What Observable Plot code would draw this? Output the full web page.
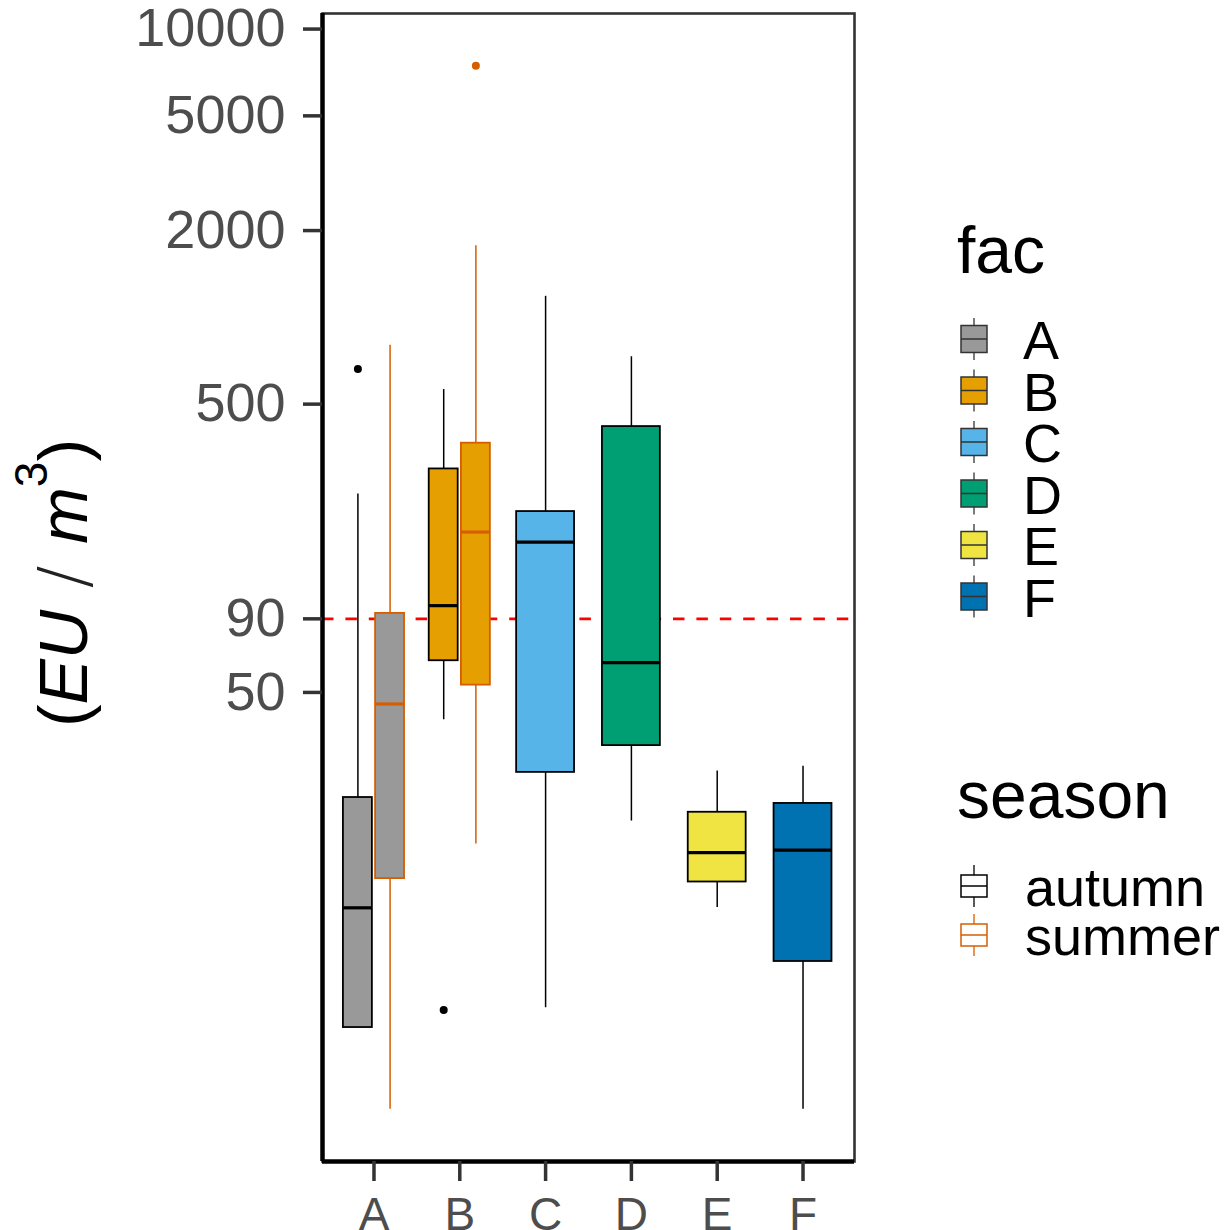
<!DOCTYPE html>
<html>
<head>
<meta charset="utf-8">
<script src="https://cdn.jsdelivr.net/npm/d3@7"></script>
<script src="https://cdn.jsdelivr.net/npm/@observablehq/plot@0.6"></script>
<style>
  body { margin: 0; background: #ffffff; }
  #chart { position: relative; width: 1225px; height: 1230px; overflow: hidden; }
</style>
</head>
<body>
<div id="chart"></div>
<script>
// ---------------- data ----------------
const facLevels = ["A", "B", "C", "D", "E", "F"];
const facColors = ["#999999", "#E69F00", "#56B4E9", "#009E73", "#F0E442", "#0072B2"];
const seasonLevels = ["autumn", "summer"];
const seasonColors = ["#000000", "#D55E00"];

// one entry per box
const boxFac    = ["A", "A", "B", "B", "C", "D", "E", "F"];
const boxSeason = ["autumn", "summer", "autumn", "summer", "autumn", "autumn", "autumn", "autumn"];
const boxLow    = [3.44, 1.79, 40.2, 14.9, 4.03, 17.9, 8.98, 1.79];
const boxQ1     = [3.44, 11.3, 64.4, 53.0, 26.4, 32.7, 11.0, 5.83];
const boxMedian = [8.95, 45.6, 100, 180, 166, 63.4, 13.9, 14.2];
const boxQ3     = [21.6, 94, 298, 366, 212, 418, 19.2, 20.6];
const boxHigh   = [244, 801, 562, 1772, 1183, 730, 26.7, 27.7];

// outliers
const outFac    = ["A", "B", "B"];
const outSeason = ["autumn", "autumn", "summer"];
const outValue  = [662, 3.96, 7460];

// reference line & axis ticks
const refLine = [90];
const yTicks = [50, 90, 500, 2000, 5000, 10000];
const yDomain = [1.18, 11324];

// ---------------- layout helpers ----------------
const boxWidth = 0.75, dodgePad = 0.1;
const facColor = f => facColors[facLevels.indexOf(f)];
const seasonColor = s => seasonColors[seasonLevels.indexOf(s)];

const rows = boxFac.map((f, i) => ({
  fac: f, season: boxSeason[i], low: boxLow[i], q1: boxQ1[i],
  med: boxMedian[i], q3: boxQ3[i], high: boxHigh[i]
}));
const counts = d3.rollup(rows, v => v.length, d => d.fac);
const seen = new Map();
rows.forEach(r => {
  const n = counts.get(r.fac);
  const j = seen.get(r.fac) || 0;
  seen.set(r.fac, j + 1);
  const slot = boxWidth / n;
  r.cx = facLevels.indexOf(r.fac) + 1 + (j - (n - 1) / 2) * slot;
  r.hw = slot * (1 - dodgePad) / 2;
  r.x1 = r.cx - r.hw;
  r.x2 = r.cx + r.hw;
});
const outRows = outFac.map((f, i) => {
  const b = rows.find(r => r.fac === f && r.season === outSeason[i]);
  return { fac: f, season: outSeason[i], value: outValue[i], cx: b.cx };
});

const xTicks = facLevels.map((f, i) => i + 1);
const xDomain = [0.4, facLevels.length + 0.6];
const font = "'Liberation Sans', Arial, Helvetica, sans-serif";

const svg = Plot.plot({
  width: 1225,
  height: 1230,
  marginLeft: 322,
  marginRight: 371,
  marginTop: 13,
  marginBottom: 69,
  style: { fontFamily: font, background: "#ffffff", overflow: "hidden" },
  x: { type: "linear", domain: xDomain, axis: null },
  y: { type: "log", domain: yDomain, axis: null },
  color: { type: "identity" },
  marks: [
    Plot.ruleY(refLine, { stroke: "#FF0000", strokeWidth: 2.8, strokeDasharray: "11.5,11.9" }),
    Plot.ruleX(rows, { x: "cx", y1: "low", y2: "q1", stroke: d => seasonColor(d.season), strokeWidth: 1.5 }),
    Plot.ruleX(rows, { x: "cx", y1: "q3", y2: "high", stroke: d => seasonColor(d.season), strokeWidth: 1.5 }),
    Plot.rect(rows, { x1: "x1", x2: "x2", y1: "q1", y2: "q3", fill: d => facColor(d.fac), stroke: d => seasonColor(d.season), strokeWidth: 1.8 }),
    Plot.ruleY(rows, { y: "med", x1: "x1", x2: "x2", stroke: d => seasonColor(d.season), strokeWidth: 3.2 }),
    Plot.dot(outRows, { x: "cx", y: "value", r: 4, fill: d => seasonColor(d.season), stroke: null }),
    Plot.frame({ stroke: "#333333", strokeWidth: 2.6 }),
    Plot.ruleX([xDomain[0]], { stroke: "#000000", strokeWidth: 4.5 }),
    Plot.ruleY([yDomain[0]], { stroke: "#000000", strokeWidth: 4.5 }),
    Plot.axisY(yTicks, { tickSize: 19, tickPadding: 18, tickFormat: d => String(d), fontSize: 54,
      fill: "#4D4D4D", stroke: "#333333", strokeWidth: 3.5, label: null }),
    Plot.axisX(xTicks, { tickSize: 20, tickPadding: 16, tickFormat: i => facLevels[i - 1], fontSize: 46,
      fill: "#4D4D4D", stroke: "#333333", strokeWidth: 3.5, label: null })
  ]
});

const s = d3.select(svg);

// y-axis title: (EU / m^3)
const yl = s.append("text")
  .attr("transform", "translate(87,583) rotate(-90)")
  .attr("text-anchor", "middle")
  .attr("font-family", font)
  .attr("font-size", 68)
  .attr("fill", "#000000");
yl.append("tspan").text("(");
yl.append("tspan").attr("font-style", "italic").text("EU");
yl.append("tspan").attr("font-family", "'DejaVu Sans', sans-serif").attr("font-weight", 200).attr("fill", "#222").text(" / ");
yl.append("tspan").attr("font-style", "italic").text("m");
yl.append("tspan").attr("font-size", 46).attr("dy", -40).text("3");
yl.append("tspan").attr("dy", 40).text(")");

// legend: fac
const lg = s.append("g").attr("font-family", font).attr("fill", "#000000").attr("text-anchor", "start");
lg.append("text").attr("x", 957).attr("y", 273).attr("font-size", 66).text("fac");
facLevels.forEach((f, i) => {
  const cy = 339 + i * 51.5, cx = 974;
  const g = lg.append("g");
  g.append("line").attr("x1", cx).attr("x2", cx).attr("y1", cy - 21).attr("y2", cy + 21)
    .attr("stroke", "#333333").attr("stroke-width", 1.3);
  g.append("rect").attr("x", cx - 13).attr("y", cy - 13.5).attr("width", 26).attr("height", 27)
    .attr("fill", facColors[i]).attr("stroke", "#333333").attr("stroke-width", 1.5);
  g.append("line").attr("x1", cx - 13).attr("x2", cx + 13).attr("y1", cy).attr("y2", cy)
    .attr("stroke", "#333333").attr("stroke-width", 1.5);
  lg.append("text").attr("x", 1023).attr("y", cy + 20).attr("font-size", 54).text(f);
});

// legend: season
lg.append("text").attr("x", 957).attr("y", 818).attr("font-size", 66).text("season");
seasonLevels.forEach((sName, k) => {
  const cy = 886 + k * 49, cx = 974;
  const col = seasonColors[k];
  const g = lg.append("g");
  g.append("line").attr("x1", cx).attr("x2", cx).attr("y1", cy - 21).attr("y2", cy + 21)
    .attr("stroke", col).attr("stroke-width", 1.3);
  g.append("rect").attr("x", cx - 13).attr("y", cy - 11).attr("width", 26).attr("height", 22)
    .attr("fill", "#ffffff").attr("stroke", col).attr("stroke-width", 1.5);
  g.append("line").attr("x1", cx - 13).attr("x2", cx + 13).attr("y1", cy).attr("y2", cy)
    .attr("stroke", col).attr("stroke-width", 1.5);
  lg.append("text").attr("x", 1025).attr("y", cy + 20).attr("font-size", 54).text(sName);
});

document.getElementById("chart").appendChild(svg);
</script>
</body>
</html>
